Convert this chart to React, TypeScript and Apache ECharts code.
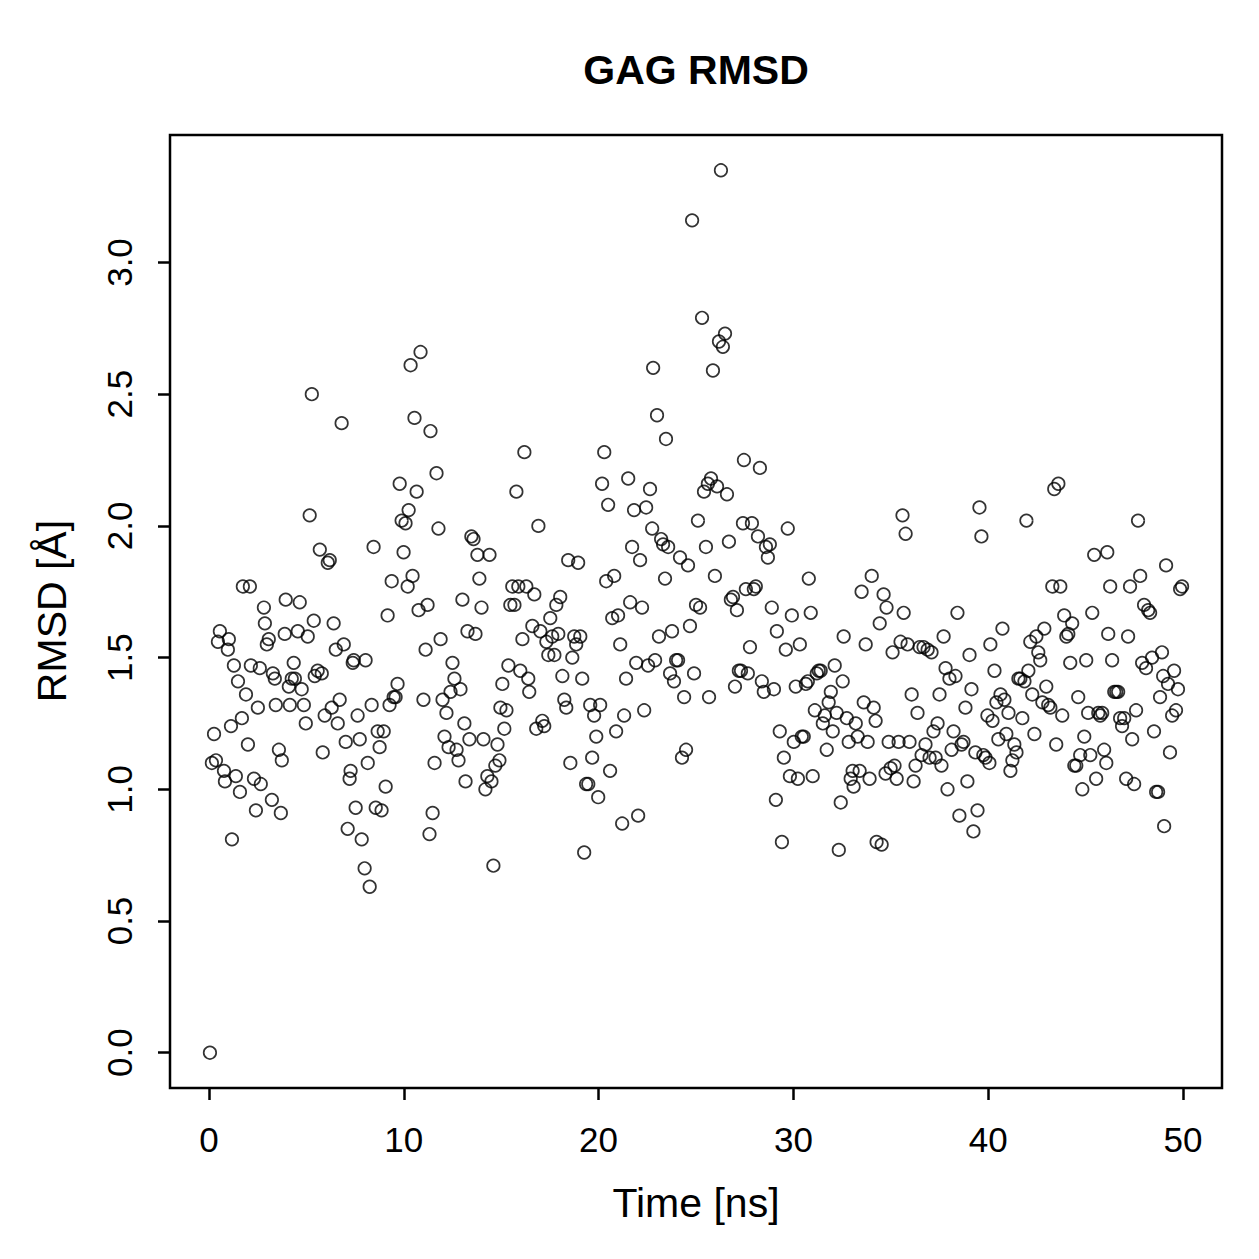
import React, { useEffect, useRef } from "react";
import * as echarts from "echarts";

const chartTitle = "GAG RMSD";
const xTitle = "Time [ns]";
const yTitle = "RMSD [Å]";

const xTicks = [0, 10, 20, 30, 40, 50];
const yTicks = [0, 0.5, 1.0, 1.5, 2.0, 2.5, 3.0];

const time = [
  0.05, 0.15, 0.26, 0.36, 0.46, 0.56, 0.77, 0.82, 0.97, 1.02, 1.13, 1.18, 1.28, 1.38, 1.49, 1.59, 1.69, 1.74, 1.9, 2.0,
  2.1, 2.15, 2.31, 2.41, 2.51, 2.61, 2.66, 2.82, 2.87, 2.97, 3.07, 3.23, 3.28, 3.38, 3.43, 3.59, 3.74, 3.69, 3.89, 3.94,
  4.1, 4.15, 4.25, 4.35, 4.41, 4.56, 4.66, 4.76, 4.87, 4.97, 5.07, 5.17, 5.28, 5.38, 5.43, 5.58, 5.69, 5.79, 5.84, 5.94,
  6.1, 6.2, 6.3, 6.4, 6.51, 6.61, 6.71, 6.81, 6.92, 7.02, 7.12, 7.22, 7.27, 7.38, 7.43, 7.53, 7.63, 7.74, 7.84, 7.99,
  8.04, 8.15, 8.25, 8.35, 8.45, 8.56, 8.66, 8.76, 8.86, 8.97, 9.07, 9.17, 9.27, 9.38, 9.48, 9.58, 9.68, 9.79, 9.89, 9.99,
  10.09, 10.2, 10.25, 10.35, 10.45, 10.55, 10.66, 10.76, 10.86, 11.01, 11.12, 11.22, 11.32, 11.37, 11.48, 11.58, 11.68, 11.78, 11.89, 11.99,
  12.09, 12.19, 12.3, 12.4, 12.5, 12.6, 12.71, 12.81, 12.91, 13.01, 13.11, 13.17, 13.27, 13.37, 13.47, 13.58, 13.68, 13.78, 13.88, 13.99,
  14.09, 14.19, 14.29, 14.4, 14.5, 14.6, 14.7, 14.81, 14.91, 14.96, 15.06, 15.16, 15.27, 15.37, 15.47, 15.57, 15.68, 15.78, 15.88, 15.98,
  16.09, 16.19, 16.29, 16.39, 16.44, 16.6, 16.7, 16.8, 16.91, 17.01, 17.11, 17.21, 17.32, 17.42, 17.52, 17.62, 17.73, 17.83, 17.93, 18.03,
  18.14, 18.24, 18.34, 18.44, 18.55, 18.65, 18.75, 18.85, 18.95, 19.06, 19.16, 19.26, 19.36, 19.47, 19.57, 19.67, 19.77, 19.88, 19.98, 20.08,
  20.18, 20.29, 20.39, 20.49, 20.59, 20.7, 20.8, 20.9, 21.0, 21.11, 21.21, 21.31, 21.41, 21.52, 21.62, 21.72, 21.82, 21.93, 22.03, 22.13,
  22.23, 22.34, 22.44, 22.54, 22.64, 22.75, 22.8, 22.9, 23.0, 23.1, 23.21, 23.31, 23.41, 23.46, 23.57, 23.67, 23.77, 23.87, 23.98, 24.08,
  24.18, 24.28, 24.39, 24.49, 24.59, 24.69, 24.8, 24.9, 25.0, 25.1, 25.21, 25.31, 25.41, 25.51, 25.61, 25.67, 25.77, 25.87, 25.97, 26.08,
  26.18, 26.28, 26.38, 26.49, 26.59, 26.69, 26.79, 26.9, 27.0, 27.1, 27.2, 27.31, 27.41, 27.46, 27.56, 27.66, 27.77, 27.87, 27.97, 28.07,
  28.18, 28.28, 28.38, 28.48, 28.59, 28.69, 28.79, 28.89, 29.0, 29.1, 29.15, 29.3, 29.41, 29.51, 29.61, 29.71, 29.82, 29.92, 30.02, 30.12,
  30.23, 30.33, 30.43, 30.53, 30.64, 30.74, 30.79, 30.89, 30.99, 31.1, 31.2, 31.3, 31.4, 31.51, 31.61, 31.71, 31.81, 31.92, 32.02, 32.12,
  32.22, 32.33, 32.43, 32.53, 32.58, 32.74, 32.84, 32.94, 33.04, 33.09, 33.2, 33.3, 33.4, 33.5, 33.61, 33.71, 33.81, 33.91, 34.02, 34.12,
  34.22, 34.27, 34.43, 34.53, 34.63, 34.73, 34.78, 34.89, 34.99, 35.09, 35.19, 35.3, 35.4, 35.5, 35.6, 35.66, 35.76, 35.86, 35.96, 36.07,
  36.17, 36.27, 36.37, 36.48, 36.58, 36.68, 36.78, 36.89, 36.99, 37.09, 37.19, 37.3, 37.4, 37.5, 37.6, 37.71, 37.81, 37.91, 38.01, 38.12,
  38.22, 38.32, 38.42, 38.52, 38.63, 38.73, 38.83, 38.93, 39.04, 39.14, 39.24, 39.34, 39.45, 39.55, 39.65, 39.75, 39.86, 39.96, 40.06, 40.11,
  40.22, 40.32, 40.42, 40.52, 40.63, 40.73, 40.83, 40.93, 41.04, 41.14, 41.24, 41.34, 41.45, 41.55, 41.65, 41.75, 41.86, 41.96, 42.06, 42.16,
  42.26, 42.37, 42.47, 42.57, 42.67, 42.78, 42.88, 42.98, 43.08, 43.19, 43.29, 43.39, 43.49, 43.6, 43.7, 43.8, 43.9, 44.01, 44.11, 44.21,
  44.31, 44.42, 44.52, 44.62, 44.72, 44.83, 44.93, 45.03, 45.13, 45.24, 45.34, 45.44, 45.54, 45.65, 45.75, 45.85, 45.95, 46.06, 46.11, 46.16,
  46.26, 46.36, 46.47, 46.57, 46.67, 46.77, 46.87, 46.98, 47.08, 47.18, 47.28, 47.39, 47.49, 47.59, 47.69, 47.8, 47.9, 48.0, 48.1, 48.21,
  48.31, 48.41, 48.51, 48.62, 48.72, 48.82, 48.92, 48.98, 49.03, 49.13, 49.23, 49.33, 49.44, 49.54, 49.64, 49.74, 49.85, 49.95,
];

const rmsd = [
  0.0, 1.1, 1.21, 1.11, 1.56, 1.6, 1.07, 1.03, 1.53, 1.57, 1.24, 0.81, 1.47, 1.05, 1.41, 0.99, 1.27, 1.77, 1.36, 1.17,
  1.77, 1.47, 1.04, 0.92, 1.31, 1.46, 1.02, 1.69, 1.63, 1.55, 1.57, 0.96, 1.44, 1.42, 1.32, 1.15, 1.11, 0.91, 1.59, 1.72,
  1.39, 1.32, 1.42, 1.48, 1.42, 1.6, 1.71, 1.38, 1.32, 1.25, 1.58, 2.04, 2.5, 1.64, 1.43, 1.45, 1.91, 1.44, 1.14, 1.28,
  1.86, 1.87, 1.31, 1.63, 1.53, 1.25, 1.34, 2.39, 1.55, 1.18, 0.85, 1.04, 1.07, 1.48, 1.49, 0.93, 1.28, 1.19, 0.81, 0.7,
  1.49, 1.1, 0.63, 1.32, 1.92, 0.93, 1.22, 1.16, 0.92, 1.22, 1.01, 1.66, 1.32, 1.79, 1.35, 1.35, 1.4, 2.16, 2.02, 1.9,
  2.01, 1.77, 2.06, 2.61, 1.81, 2.41, 2.13, 1.68, 2.66, 1.34, 1.53, 1.7, 0.83, 2.36, 0.91, 1.1, 2.2, 1.99, 1.57, 1.34,
  1.2, 1.29, 1.16, 1.37, 1.48, 1.42, 1.15, 1.11, 1.38, 1.72, 1.25, 1.03, 1.6, 1.19, 1.96, 1.95, 1.59, 1.89, 1.8, 1.69,
  1.19, 1.0, 1.05, 1.89, 1.03, 0.71, 1.09, 1.17, 1.11, 1.31, 1.4, 1.23, 1.3, 1.47, 1.7, 1.77, 1.7, 2.13, 1.77, 1.45,
  1.57, 2.28, 1.77, 1.42, 1.37, 1.62, 1.74, 1.23, 2.0, 1.6, 1.26, 1.24, 1.56, 1.51, 1.65, 1.58, 1.51, 1.7, 1.59, 1.73,
  1.43, 1.34, 1.31, 1.87, 1.1, 1.5, 1.58, 1.55, 1.86, 1.58, 1.42, 0.76, 1.02, 1.02, 1.32, 1.12, 1.28, 1.2, 0.97, 1.32,
  2.16, 2.28, 1.79, 2.08, 1.07, 1.65, 1.81, 1.22, 1.66, 1.55, 0.87, 1.28, 1.42, 2.18, 1.71, 1.92, 2.06, 1.48, 0.9, 1.87,
  1.69, 1.3, 2.07, 1.47, 2.14, 1.99, 2.6, 1.49, 2.42, 1.58, 1.95, 1.93, 1.8, 2.33, 1.92, 1.44, 1.6, 1.41, 1.49, 1.49,
  1.88, 1.12, 1.35, 1.15, 1.85, 1.62, 3.16, 1.44, 1.7, 2.02, 1.69, 2.79, 2.13, 1.92, 2.16, 1.35, 2.18, 2.59, 1.81, 2.15,
  2.7, 3.35, 2.68, 2.73, 2.12, 1.94, 1.72, 1.73, 1.39, 1.68, 1.45, 1.45, 2.01, 2.25, 1.76, 1.44, 1.54, 2.01, 1.76, 1.77,
  1.96, 2.22, 1.41, 1.37, 1.92, 1.88, 1.93, 1.69, 1.38, 0.96, 1.6, 1.22, 0.8, 1.12, 1.53, 1.99, 1.05, 1.66, 1.18, 1.39,
  1.04, 1.55, 1.2, 1.2, 1.4, 1.41, 1.8, 1.67, 1.05, 1.3, 1.44, 1.45, 1.45, 1.25, 1.28, 1.15, 1.33, 1.37, 1.22, 1.47,
  1.29, 0.77, 0.95, 1.41, 1.58, 1.27, 1.18, 1.04, 1.07, 1.01, 1.25, 1.2, 1.07, 1.75, 1.33, 1.55, 1.18, 1.04, 1.81, 1.31,
  1.26, 0.8, 1.63, 0.79, 1.74, 1.06, 1.69, 1.18, 1.08, 1.52, 1.09, 1.04, 1.18, 1.56, 2.04, 1.67, 1.97, 1.55, 1.18, 1.36,
  1.03, 1.09, 1.29, 1.54, 1.13, 1.54, 1.17, 1.53, 1.12, 1.52, 1.22, 1.12, 1.25, 1.36, 1.09, 1.58, 1.46, 1.0, 1.42, 1.15,
  1.22, 1.43, 1.67, 0.9, 1.17, 1.18, 1.31, 1.03, 1.51, 1.38, 0.84, 1.14, 0.92, 2.07, 1.96, 1.13, 1.12, 1.28, 1.1, 1.55,
  1.26, 1.45, 1.33, 1.19, 1.36, 1.61, 1.34, 1.21, 1.29, 1.07, 1.11, 1.17, 1.14, 1.42, 1.42, 1.27, 1.41, 2.02, 1.45, 1.56,
  1.36, 1.21, 1.58, 1.52, 1.49, 1.33, 1.61, 1.39, 1.32, 1.31, 1.77, 2.14, 1.17, 2.16, 1.77, 1.28, 1.66, 1.58, 1.59, 1.48,
  1.63, 1.09, 1.09, 1.35, 1.13, 1.0, 1.2, 1.49, 1.29, 1.13, 1.67, 1.89, 1.04, 1.29, 1.28, 1.29, 1.15, 1.1, 1.9, 1.59,
  1.77, 1.49, 1.37, 1.37, 1.37, 1.27, 1.24, 1.27, 1.04, 1.58, 1.77, 1.19, 1.02, 1.3, 2.02, 1.81, 1.48, 1.7, 1.46, 1.68,
  1.67, 1.5, 1.22, 0.99, 0.99, 1.35, 1.52, 1.43, 0.86, 1.85, 1.4, 1.14, 1.28, 1.45, 1.3, 1.38, 1.76, 1.77,
];

const FONT = "'Liberation Sans', Arial, Helvetica, sans-serif";

export default function App() {
  const ref = useRef<HTMLDivElement>(null);
  useEffect(() => {
    if (!ref.current) return;
    const chart = echarts.init(ref.current, undefined, { renderer: "svg" });
    const data = time.map((t, i) => [t, rmsd[i]]);
    chart.setOption({
      animation: false,
      backgroundColor: "#ffffff",
      grid: {
        left: 170,
        top: 135,
        width: 1052,
        height: 953,
        show: true,
        borderColor: "#000000",
        borderWidth: 2.5,
        backgroundColor: "transparent",
      },
      xAxis: {
        type: "value",
        min: -2,
        max: 52,
        axisLine: { show: false, onZero: false },
        splitLine: { show: false },
        axisTick: {
          show: true,
          inside: false,
          length: 12,
          customValues: xTicks,
          lineStyle: { color: "#000", width: 2.5 },
        },
        axisLabel: {
          show: true,
          customValues: xTicks,
          margin: 34,
          color: "#000",
          fontSize: 35,
          fontFamily: FONT,
          formatter: (v: number) => String(v),
        },
      },
      yAxis: {
        type: "value",
        min: -0.134,
        max: 3.484,
        axisLine: { show: false, onZero: false },
        splitLine: { show: false },
        axisTick: {
          show: true,
          inside: false,
          length: 12,
          customValues: yTicks,
          lineStyle: { color: "#000", width: 2.5 },
        },
        axisLabel: {
          show: true,
          customValues: yTicks,
          rotate: 90,
          margin: 33,
          color: "#000",
          fontSize: 35,
          fontFamily: FONT,
          formatter: (v: number) => v.toFixed(1),
        },
      },
      graphic: [
        {
          type: "text",
          x: 696,
          y: 70,
          style: {
            text: chartTitle,
            fill: "#000",
            font: `bold 41px ${FONT}`,
            textAlign: "center",
            textVerticalAlign: "middle",
          },
        },
        {
          type: "text",
          x: 696,
          y: 1203,
          style: {
            text: xTitle,
            fill: "#000",
            font: `41px ${FONT}`,
            textAlign: "center",
            textVerticalAlign: "middle",
          },
        },
        {
          type: "text",
          x: 52,
          y: 611,
          rotation: Math.PI / 2,
          style: {
            text: yTitle,
            fill: "#000",
            font: `41px ${FONT}`,
            textAlign: "center",
            textVerticalAlign: "middle",
          },
        },
      ],
      series: [
        {
          type: "scatter",
          data,
          symbol: "circle",
          symbolSize: 12.5,
          itemStyle: {
            color: "rgba(0,0,0,0)",
            borderColor: "#000",
            borderWidth: 1.7,
          },
          emphasis: { disabled: true },
        },
      ],
    });
    return () => chart.dispose();
  }, []);
  return (
    <div
      ref={ref}
      style={{ position: "fixed", left: 0, top: 0, width: 1259, height: 1259 }}
    />
  );
}
